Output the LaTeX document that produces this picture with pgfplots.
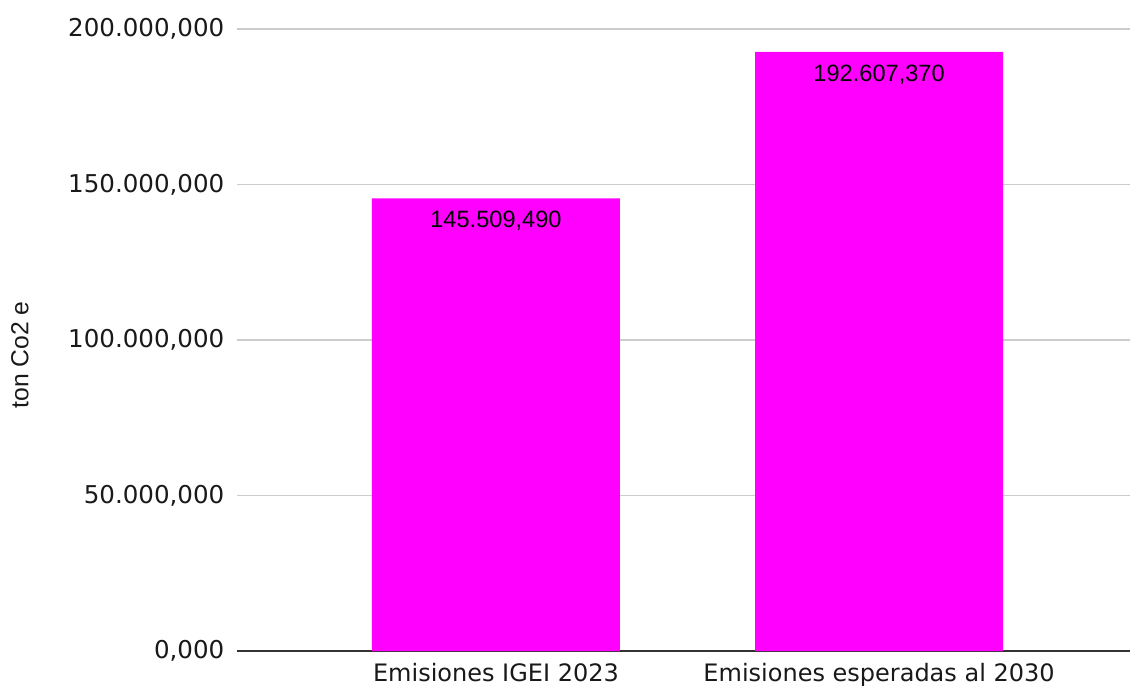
\documentclass[border=0pt]{standalone}
\usepackage{pgfplots}
\usepackage{pgfplotstable}
\usepackage{fontspec}
\pgfplotsset{compat=1.18}
\setmainfont{DejaVu Sans}
\newfontfamily\lib{Liberation Sans}
\definecolor{bar}{HTML}{FF00FF}
\definecolor{grid}{HTML}{CCCCCC}
\definecolor{axisline}{HTML}{333333}
\pgfplotstableread{
x y label
0 145509490 145.509,490
1 192607370 192.607,370
}\datatable
\begin{document}
\begin{tikzpicture}
\useasboundingbox (0pt,0pt) rectangle (847.5pt,516.75pt);
\begin{axis}[
  at={(177.75pt,28.5pt)}, anchor=south west,
  scale only axis,
  width=669.75pt, height=466.5pt,
  xmin=-0.676, xmax=1.655,
  ymin=0, ymax=200000000,
  axis x line*=bottom,
  axis y line*=left,
  x axis line style={draw=axisline, line width=1pt, -},
  y axis line style={draw=none},
  xtick={0,1},
  xticklabels={Emisiones IGEI 2023, Emisiones esperadas al 2030},
  ytick={0,50000000,100000000,150000000,200000000},
  yticklabels={{0,000},{50.000,000},{100.000,000},{150.000,000},{200.000,000}},
  scaled y ticks=false,
  major tick length=0pt,
  ymajorgrids, grid style={draw=grid, line width=1pt},
  xticklabel style={font=\fontsize{18}{21}\selectfont, text=black!90, yshift=-6pt},
  yticklabel style={font=\fontsize{18.4}{21}\selectfont, text=black!90, xshift=-6pt},
  ybar, bar width=186pt, bar shift=0pt,
  nodes near coords,
  point meta=explicit symbolic,
  every node near coord/.append style={anchor=north, yshift=-6pt, font=\lib\fontsize{17.7}{20}\selectfont, text=black},
  clip=false,
]
\addplot[fill=bar, draw=none] table[x=x, y=y, meta=label] {\datatable};
\end{axis}
\node[rotate=90, font=\lib\fontsize{18.5}{21}\selectfont, text=black!90] at (15pt,250.5pt) {ton Co2 e};
\end{tikzpicture}
\end{document}
